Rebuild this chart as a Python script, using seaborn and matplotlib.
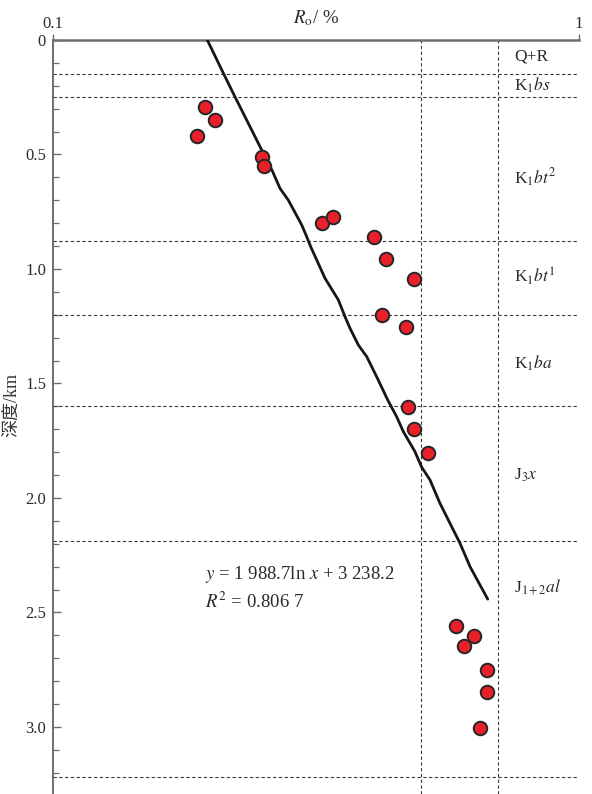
import matplotlib
matplotlib.use("Agg")
import matplotlib.pyplot as plt
import seaborn as sns
import numpy as np
import pandas as pd

# Vitrinite reflectance measurements (Ro, %) versus burial depth (km)
ro_samples = [0.1945, 0.2033, 0.1875, 0.250, 0.252, 0.325, 0.340, 0.407, 0.430, 0.485,
              0.423, 0.469, 0.473, 0.486, 0.517, 0.583, 0.631, 0.605, 0.669, 0.669, 0.648]
depth_samples = [0.294, 0.348, 0.418, 0.512, 0.550, 0.800, 0.772, 0.860, 0.958, 1.045,
                 1.201, 1.253, 1.601, 1.697, 1.802, 2.560, 2.603, 2.646, 2.751, 2.847, 3.004]

# Trend curve (Ro, %) versus depth (km)
ro_trend = [0.1965, 0.2108, 0.2218, 0.2403, 0.2493, 0.2616, 0.2701, 0.2801, 0.2971, 0.3036,
            0.3090, 0.3290, 0.3487, 0.3590, 0.3670, 0.3806, 0.3949, 0.4153, 0.4328, 0.4501,
            0.4634, 0.4877, 0.5023, 0.5208, 0.5440, 0.5685, 0.5940, 0.6206, 0.6706]
depth_trend = [0.000, 0.145, 0.248, 0.407, 0.480, 0.575, 0.648, 0.699, 0.808, 0.859,
               0.903, 1.041, 1.135, 1.208, 1.259, 1.332, 1.383, 1.485, 1.572, 1.645,
               1.710, 1.798, 1.866, 1.921, 2.023, 2.111, 2.198, 2.300, 2.442]

# Stratigraphic boundaries (km) and unit labels with their label depths
boundaries = [0.15, 0.25, 0.88, 1.20, 1.60, 2.19, 3.22]
unit_labels = ['Q+R', r'K$_{\rm 1}$$bs$', r'K$_{\rm 1}$$bt^{\rm 2}$', r'K$_{\rm 1}$$bt^{\rm 1}$',
               r'K$_{\rm 1}$$ba$', r'J$_{\rm 3}$$x$', r'J$_{\rm 1+2}$$al$']
unit_label_depths = [0.07, 0.20, 0.60, 1.03, 1.41, 1.90, 2.39]

# Reference reflectance levels
ro_levels = [0.5, 0.7]

y_ticks = [0.0, 0.5, 1.0, 1.5, 2.0, 2.5, 3.0]
y_tick_labels = ['0', '0.5', '1.0', '1.5', '2.0', '2.5', '3.0']

sns.set_theme(style="white")
plt.rcParams['font.family'] = ['Liberation Serif', 'Noto Sans CJK SC']
plt.rcParams['mathtext.fontset'] = 'stix'

W, H = 592, 794
fig = plt.figure(figsize=(W / 100, H / 100), dpi=100)
ax = fig.add_axes([53 / W, 0, 526 / W, 754 / H])

dash = (0, (3, 2.2))
for b in boundaries:
    ax.axhline(b, color='#3a3a3a', lw=0.8, ls=dash, zorder=1)
for v in ro_levels:
    ax.axvline(v, color='#3a3a3a', lw=0.8, ls=dash, zorder=1)

trend = pd.DataFrame({'ro': ro_trend, 'depth': depth_trend})
sns.lineplot(data=trend, x='ro', y='depth', sort=False, estimator=None,
             color='#161616', lw=2.0, ax=ax, zorder=3)

samples = pd.DataFrame({'ro': ro_samples, 'depth': depth_samples})
sns.scatterplot(data=samples, x='ro', y='depth', s=95, color='#e8202a',
                edgecolor='#262626', linewidth=1.4, ax=ax, zorder=4)

ax.set_xscale('log')
ax.set_xlim(0.1, 1.0)
ax.set_ylim(3.293, 0)

ax.xaxis.tick_top()
ax.set_xticks([0.1, 1.0])
ax.set_xticklabels(['0.1', '1'])
ax.xaxis.set_minor_locator(matplotlib.ticker.NullLocator())
ax.tick_params(axis='x', which='major', direction='out', length=4, width=1,
               color='#6e6e6e', labelsize=12, pad=2, labelcolor='#2a2a2a')

ax.set_yticks(y_ticks)
ax.set_yticklabels(y_tick_labels)
ax.yaxis.set_minor_locator(matplotlib.ticker.MultipleLocator(0.1))
ax.tick_params(axis='y', which='major', direction='in', length=6, width=1,
               color='#6e6e6e', labelsize=12, pad=5, left=True, labelcolor='#2a2a2a')
ax.tick_params(axis='y', which='minor', direction='in', length=4, width=0.9,
               color='#6e6e6e', left=True)

for side in ['right', 'bottom']:
    ax.spines[side].set_visible(False)
ax.spines['top'].set_color('#6e6e6e')
ax.spines['top'].set_linewidth(1.8)
ax.spines['left'].set_color('#6e6e6e')
ax.spines['left'].set_linewidth(1.4)

ax.set_xlabel('')
ax.text(0.5, 1 + 22 / 754, r'$R_{\rm o}$/ %', transform=ax.transAxes,
        ha='center', va='center', fontsize=13.5, color='#2a2a2a')

ax.set_ylabel('深度/km', fontsize=13, color='#333333',
              family=['Liberation Serif', 'Noto Sans CJK SC'])
ax.yaxis.set_label_coords(-33 / 526, 1 - 365 / 754)

for lab, d in zip(unit_labels, unit_label_depths):
    ax.text(0.752, d, lab, ha='left', va='center', fontsize=12.5, color='#2a2a2a')

ax.text(0.1945, 2.336, r'$y$ = 1 988.7ln $x$ + 3 238.2', ha='left', va='center',
        fontsize=13.5, color='#2a2a2a')
ax.text(0.1945, 2.452, r'$R^{\rm 2}$ = 0.806 7', ha='left', va='center',
        fontsize=13.5, color='#2a2a2a')

fig.savefig('out.png', dpi=100)
